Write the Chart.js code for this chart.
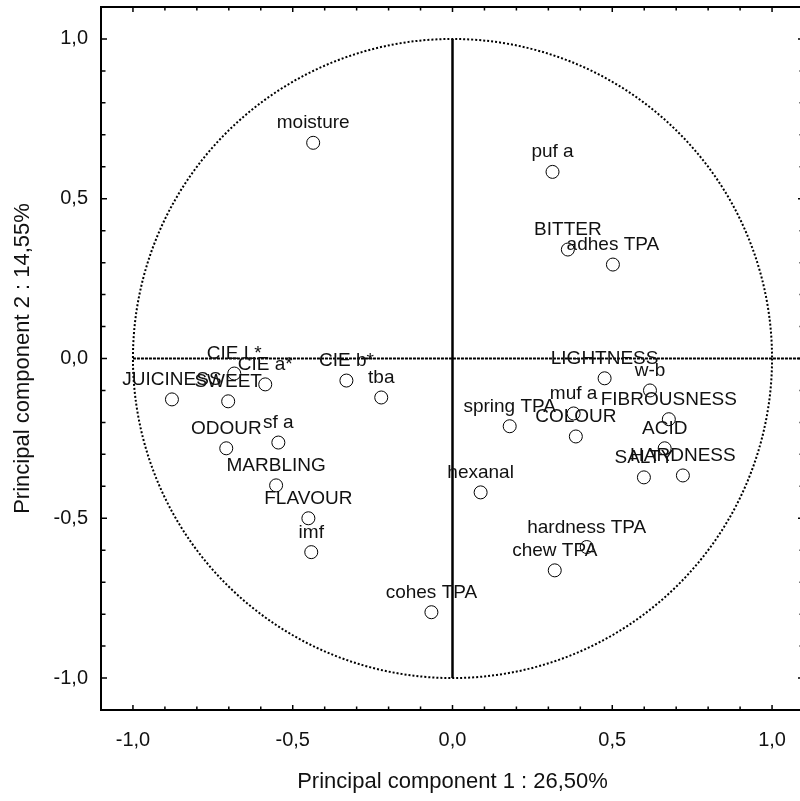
<!DOCTYPE html>
<html>
<head>
<meta charset="UTF-8">
<title>PCA loadings</title>
<script src="https://cdn.jsdelivr.net/npm/chart.js"></script>
<style>
  html, body { margin: 0; padding: 0; background: #fff; overflow: hidden; }
  canvas { display: block; }
</style>
</head>
<body>
<canvas id="myChart" width="806" height="801"></canvas>
<script>
// variable names and loadings on PC1 / PC2
var labels = ['moisture', 'puf a', 'BITTER', 'adhes TPA', 'CIE L*', 'CIE a*', 'CIE b*', 'tba',
    'JUICINESS', 'SWEET', 'ODOUR', 'sf a', 'MARBLING', 'FLAVOUR', 'imf', 'cohes TPA',
    'hexanal', 'spring TPA', 'LIGHTNESS', 'w-b', 'muf a', 'COLOUR', 'FIBROUSNESS', 'ACID',
    'SALTY', 'HARDNESS', 'hardness TPA', 'chew TPA'];
var pc1 = [-0.436, 0.313, 0.361, 0.502, -0.683, -0.586, -0.332, -0.223,
    -0.878, -0.702, -0.708, -0.545, -0.552, -0.451, -0.442, -0.066,
    0.088, 0.179, 0.476, 0.618, 0.379, 0.386, 0.677, 0.664,
    0.599, 0.721, 0.420, 0.320];
var pc2 = [0.675, 0.584, 0.341, 0.294, -0.047, -0.081, -0.069, -0.122,
    -0.128, -0.134, -0.281, -0.263, -0.397, -0.500, -0.606, -0.794,
    -0.419, -0.212, -0.062, -0.100, -0.172, -0.244, -0.190, -0.281,
    -0.372, -0.366, -0.590, -0.663];
var tickValues = [-1, -0.5, 0, 0.5, 1];

var punti = [];
for (let i = 0; i < labels.length; i++) {
    punti.push({x: pc1[i], y: pc2[i]});
}

function virgola(v) {
    return v.toFixed(1).replace('.', ',');
}

// circle of correlations + axis lines through the origin
var sfondo = {
    id: 'sfondo',
    beforeDatasetsDraw(chart) {
        var ctx = chart.ctx, xs = chart.scales.x, ys = chart.scales.y;
        var x0 = xs.getPixelForValue(0), y0 = ys.getPixelForValue(0);
        ctx.save();
        ctx.strokeStyle = '#000';
        // dotted unit circle
        ctx.lineWidth = 2;
        ctx.setLineDash([2, 2]);
        ctx.beginPath();
        ctx.ellipse(x0, y0, Math.abs(xs.getPixelForValue(1) - x0), Math.abs(ys.getPixelForValue(1) - y0), 0, 0, Math.PI * 2);
        ctx.stroke();
        // horizontal line y = 0
        ctx.setLineDash([3, 1]);
        ctx.beginPath();
        ctx.moveTo(xs.getPixelForValue(-1), y0);
        ctx.lineTo(chart.chartArea.right, y0);
        ctx.stroke();
        // vertical line x = 0
        ctx.setLineDash([]);
        ctx.lineWidth = 2.5;
        ctx.beginPath();
        ctx.moveTo(x0, ys.getPixelForValue(1));
        ctx.lineTo(x0, ys.getPixelForValue(-1));
        ctx.stroke();
        ctx.restore();
    },
    afterDatasetsDraw(chart) {
        var ctx = chart.ctx;
        var meta = chart.getDatasetMeta(0);
        ctx.save();
        ctx.fillStyle = '#111';
        ctx.font = '19px "Liberation Sans", Arial, sans-serif';
        ctx.textAlign = 'center';
        ctx.textBaseline = 'alphabetic';
        meta.data.forEach(function(p, i) {
            ctx.fillText(labels[i], p.x, p.y - 14.5);
        });
        ctx.restore();
    },
    afterDraw(chart) {
        var ctx = chart.ctx, a = chart.chartArea, xs = chart.scales.x, ys = chart.scales.y;
        ctx.save();
        ctx.strokeStyle = '#000';
        ctx.lineWidth = 2;
        ctx.strokeRect(a.left, a.top, a.right - a.left, a.bottom - a.top);
        ctx.lineWidth = 1.5;
        ctx.beginPath();
        for (let i = -10; i <= 10; i++) {
            var len = (i % 5 === 0) ? 5 : 3.5;
            var px = xs.getPixelForValue(i / 10);
            var py = ys.getPixelForValue(i / 10);
            ctx.moveTo(px, a.bottom); ctx.lineTo(px, a.bottom - len);
            ctx.moveTo(px, a.top); ctx.lineTo(px, a.top + len);
            ctx.moveTo(a.left, py); ctx.lineTo(a.left + len + 1, py);
            ctx.moveTo(a.right, py); ctx.lineTo(a.right - len - 1, py);
        }
        ctx.stroke();
        ctx.restore();
    }
};

var grafico = document.getElementById('myChart').getContext('2d');
var myChart = new Chart(grafico, {
    type: 'scatter',
    data: {
        datasets: [{
            data: punti,
            pointStyle: 'circle',
            pointRadius: 6.5,
            pointHoverRadius: 6.5,
            borderColor: '#000',
            borderWidth: 1,
            backgroundColor: 'rgba(0,0,0,0)'
        }]
    },
    options: {
        responsive: false,
        animation: false,
        events: [],
        layout: { autoPadding: false, padding: { top: 7, right: 2, left: 0, bottom: 0 } },
        plugins: { legend: { display: false }, tooltip: { enabled: false } },
        scales: {
            x: {
                type: 'linear',
                min: -1.1,
                max: 1.1,
                afterBuildTicks: function(s) { s.ticks = tickValues.map(v => ({value: v})); },
                afterFit: function(s) { s.height = 91; s.paddingLeft = 0; s.paddingRight = 0; },
                grid: { display: false, drawTicks: false },
                border: { display: false },
                ticks: {
                    color: '#111',
                    padding: 18,
                    maxRotation: 0,
                    font: { family: '"Liberation Sans", Arial, sans-serif', size: 20 },
                    callback: function(v) { return virgola(v); }
                },
                title: {
                    display: true,
                    text: 'Principal component 1 : 26,50%',
                    color: '#111',
                    padding: { top: 0, bottom: 6 },
                    font: { family: '"Liberation Sans", Arial, sans-serif', size: 22 }
                }
            },
            y: {
                type: 'linear',
                min: -1.1,
                max: 1.1,
                afterBuildTicks: function(s) { s.ticks = tickValues.map(v => ({value: v})); },
                afterFit: function(s) { s.width = 101; s.paddingTop = 0; s.paddingBottom = 0; },
                grid: { display: false, drawTicks: false },
                border: { display: false },
                ticks: {
                    color: '#111',
                    padding: 13,
                    font: { family: '"Liberation Sans", Arial, sans-serif', size: 20 },
                    callback: function(v) { return virgola(v); }
                },
                title: {
                    display: true,
                    text: 'Principal component 2 : 14,55%',
                    color: '#111',
                    padding: { top: 10, bottom: 0 },
                    font: { family: '"Liberation Sans", Arial, sans-serif', size: 22 }
                }
            }
        }
    },
    plugins: [sfondo]
});
</script>
</body>
</html>
